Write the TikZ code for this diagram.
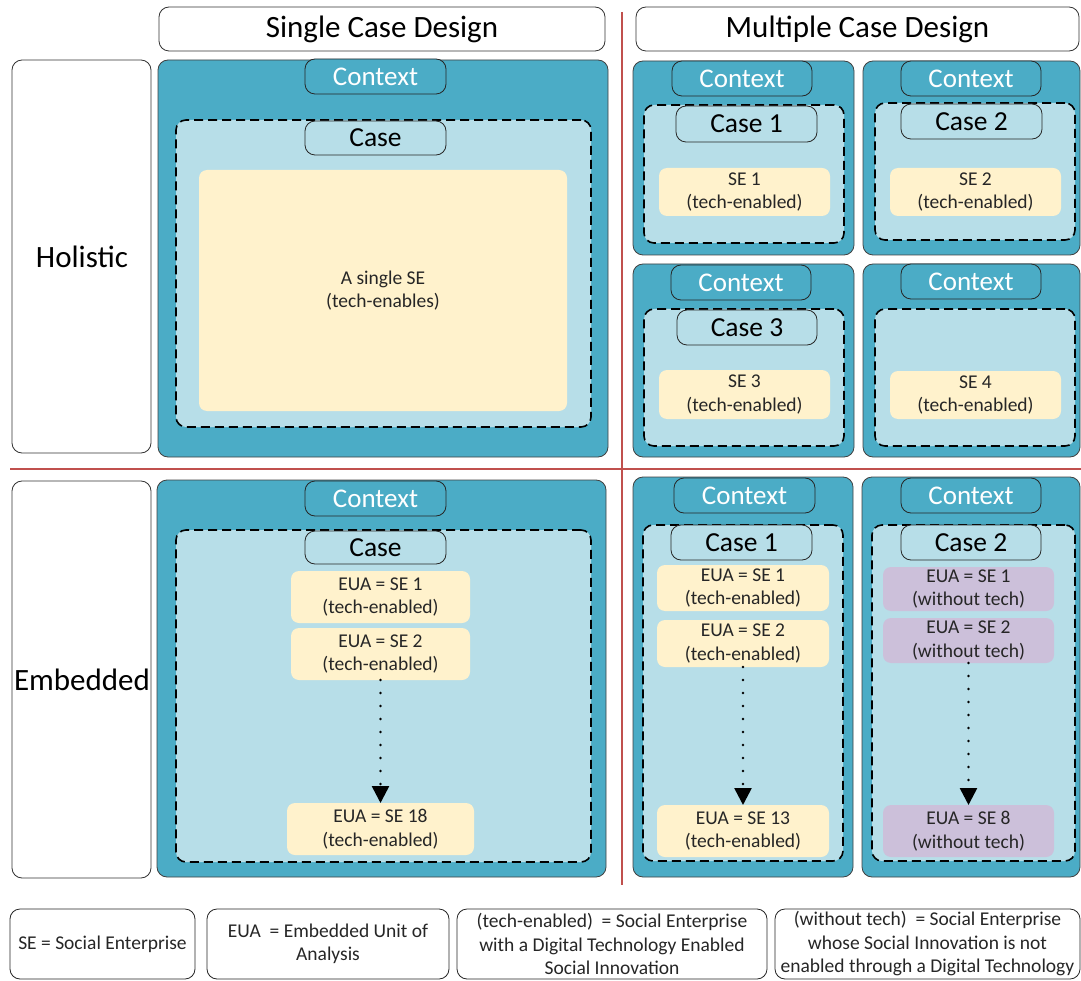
\documentclass[tikz,border=0pt]{standalone}
\usepackage{fontspec}
\setmainfont{Carlito}
\usetikzlibrary{arrows.meta}
\definecolor{ctx}{HTML}{4BACC6}
\definecolor{cse}{HTML}{B7DEE8}
\definecolor{sey}{HTML}{FFF2CC}
\definecolor{pu}{HTML}{CCC0DA}
\definecolor{rl}{HTML}{C0504D}
\definecolor{tx}{HTML}{262626}
\newcommand{\bx}[7]{\node[#6, minimum width={(#4-#2)*1pt}, minimum height={(#5-#3)*1pt}] (#1) at ({(#2+#4)/2},{(#3+#5)/2}) {#7};}
\tikzset{
  box/.style={draw, rounded corners=10pt, inner sep=0pt, outer sep=0pt, align=center},
  hdr/.style={box, draw=black!80, fill=white, line width=0.8pt, font=\fontsize{31}{36}\selectfont},
  rowlbl/.style={box, draw=black!80, fill=white, line width=0.8pt, font=\fontsize{31}{36}\selectfont},
  ctxbox/.style={box, fill=ctx, draw=black!75, line width=0.8pt},
  ctxlbl/.style={box, fill=ctx, draw=black!85, line width=0.8pt, text=white, font=\fontsize{27}{32}\selectfont},
  casebox/.style={box, fill=cse, draw=black, line width=1.6pt, dash pattern=on 9pt off 5pt},
  caselbl/.style={box, fill=cse, draw=black!85, line width=0.8pt, font=\fontsize{27.5}{32}\selectfont},
  sebox/.style={rounded corners=8pt, inner sep=0pt, outer sep=0pt, align=center, fill=sey, text=tx, font=\fontsize{19.5}{23.5}\selectfont},
  pubox/.style={sebox, fill=pu},
  legbox/.style={box, draw=black!85, fill=white, line width=0.8pt, text=tx, font=\fontsize{19.5}{23.5}\selectfont},
  divider/.style={draw=rl, line width=2pt},
  dotarrow/.style={draw=black, line width=2.6pt, line cap=round, dash pattern=on 0pt off 13pt, -{Triangle[width=17pt,length=17pt]}}
}
\begin{document}
\begin{tikzpicture}[x=1pt,y=-1pt]
\useasboundingbox (0,0) rectangle (1081,981);
% dividers
\coordinate (vt) at (622,12);
\coordinate (vb) at (622,885);
\coordinate (hl) at (10,469);
\coordinate (hr) at (1081,469);
\draw[divider] (vt) -- (vb);
\draw[divider] (hl) -- (hr);
% headers
\bx{h1}{159}{7}{605}{51}{hdr}{Single Case Design}
\bx{h2}{636}{7}{1079}{51}{hdr}{Multiple Case Design}
% row labels
\bx{r1}{12}{60}{151}{453}{rowlbl}{}
\node[font=\fontsize{31}{36}\selectfont] (r1t) at (82,257) {Holistic};
\bx{r2}{12}{481}{151}{878}{rowlbl}{}
\node[font=\fontsize{31}{36}\selectfont] (r2t) at (82,680) {Embedded};
% ---------- Holistic single
\bx{c1}{158}{60}{608}{457}{ctxbox}{}
\bx{c1l}{305}{59}{446}{94}{ctxlbl}{Context}
\bx{k1}{176}{120}{591}{427}{casebox}{}
\bx{k1l}{305}{121}{446}{155}{caselbl}{Case}
\bx{s1}{199}{170}{567}{411}{sebox}{A single SE\\(tech-enables)}
% ---------- Holistic multiple
% TL
\bx{c2}{633}{61}{854}{255}{ctxbox}{}
\bx{c2l}{672}{61}{812}{96}{ctxlbl}{Context}
\bx{k2}{644}{105}{844}{243}{casebox}{}
\bx{k2l}{676}{106}{817}{142}{caselbl}{Case 1}
\bx{s2}{659}{168}{830}{216}{sebox}{SE 1\\(tech-enabled)}
% TR
\bx{c3}{863}{61}{1080}{255}{ctxbox}{}
\bx{c3l}{901}{61}{1041}{96}{ctxlbl}{Context}
\bx{k3}{875}{103}{1075}{240}{casebox}{}
\bx{k3l}{901}{104}{1042}{139}{caselbl}{Case 2}
\bx{s3}{890}{168}{1061}{216}{sebox}{SE 2\\(tech-enabled)}
% BL
\bx{c4}{633}{264}{854}{457}{ctxbox}{}
\bx{c4l}{671}{265}{811}{300}{ctxlbl}{Context}
\bx{k4}{644}{309}{844}{446}{casebox}{}
\bx{k4l}{677}{310}{817}{345}{caselbl}{Case 3}
\bx{s4}{659}{370}{830}{419}{sebox}{SE 3\\(tech-enabled)}
% BR
\bx{c5}{863}{264}{1080}{457}{ctxbox}{}
\bx{c5l}{901}{264}{1041}{299}{ctxlbl}{Context}
\bx{k5}{875}{309}{1075}{446}{casebox}{}
\bx{s5}{890}{371}{1061}{419}{sebox}{SE 4\\(tech-enabled)}
% ---------- Embedded single
\bx{c6}{157}{480}{606}{877}{ctxbox}{}
\bx{c6l}{305}{481}{446}{516}{ctxlbl}{Context}
\bx{k6}{176}{530}{591}{862}{casebox}{}
\bx{k6l}{305}{531}{446}{564}{caselbl}{Case}
\bx{e61}{291}{571}{470}{623}{sebox}{EUA = SE 1\\(tech-enabled)}
\bx{e62}{291}{628}{470}{680}{sebox}{EUA = SE 2\\(tech-enabled)}
\bx{e63}{287}{803}{474}{855}{sebox}{EUA = SE 18\\(tech-enabled)}
\draw[dotarrow] (e62.south) -- (e63.north);
% ---------- Embedded multiple Case 1
\bx{c7}{633}{477}{853}{877}{ctxbox}{}
\bx{c7l}{674}{478}{815}{513}{ctxlbl}{Context}
\bx{k7}{643}{525}{843}{861}{casebox}{}
\bx{k7l}{671}{525}{812}{560}{caselbl}{Case 1}
\bx{e71}{657}{565}{829}{611}{sebox}{EUA = SE 1\\(tech-enabled)}
\bx{e72}{657}{620}{829}{667}{sebox}{EUA = SE 2\\(tech-enabled)}
\bx{e73}{657}{805}{829}{857}{sebox}{EUA = SE 13\\(tech-enabled)}
\draw[dotarrow] (e72.south) -- (e73.north);
% ---------- Embedded multiple Case 2
\bx{c8}{862}{477}{1080}{877}{ctxbox}{}
\bx{c8l}{901}{478}{1041}{513}{ctxlbl}{Context}
\bx{k8}{872}{525}{1075}{861}{casebox}{}
\bx{k8l}{901}{525}{1041}{560}{caselbl}{Case 2}
\bx{e81}{883}{567}{1054}{611}{pubox}{EUA = SE 1\\(without tech)}
\bx{e82}{883}{618}{1054}{663}{pubox}{EUA = SE 2\\(without tech)}
\bx{e83}{883}{805}{1054}{857}{pubox}{EUA = SE 8\\(without tech)}
\draw[dotarrow] (e82.south) -- (e83.north);
% ---------- legend
\bx{l1}{10}{909}{195}{979}{legbox}{SE = Social Enterprise}
\bx{l2}{207}{909}{449}{979}{legbox}{EUA\ \ = Embedded Unit of\\Analysis}
\bx{l3}{457}{909}{767}{979}{legbox}{(tech-enabled)\ \ = Social Enterprise\\with a Digital Technology Enabled\\Social Innovation}
\bx{l4}{775}{909}{1080}{979}{legbox}{(without tech)\ \ = Social Enterprise\\whose Social Innovation is not\\enabled through a Digital Technology}
\end{tikzpicture}
\end{document}
